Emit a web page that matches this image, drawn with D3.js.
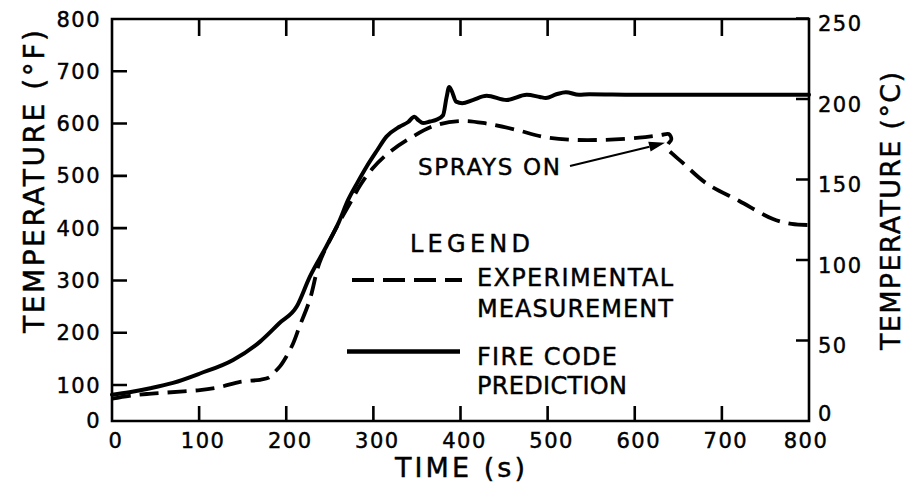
<!DOCTYPE html>
<html><head><meta charset="utf-8">
<script src="https://cdn.jsdelivr.net/npm/d3@7"></script>
<style>
body{margin:0;background:#fff}
svg{display:block;background:#fff}
text{font-family:"DejaVu Sans",sans-serif;fill:#000;stroke:#000;stroke-width:0.45px}
</style>
</head><body>
<svg id="chart" width="905" height="492"></svg>
<script>
// ---------- data ----------
const timeTicks = [0, 100, 200, 300, 400, 500, 600, 700, 800];
const fahrenheitTicks = [0, 100, 200, 300, 400, 500, 600, 700, 800];
const celsiusTicks = [0, 50, 100, 150, 200, 250];

// FIRE CODE PREDICTION (deg F vs s)
const fireTime = [0, 20, 44, 70, 101, 139, 170, 192, 212, 227, 246, 260, 271, 282, 292, 304, 315, 330, 340, 347, 352, 357, 365, 372, 380, 384, 387, 390, 395, 402, 414, 430, 453, 476, 491, 498, 510, 521, 536, 548, 600, 700, 800];
const fireTemp = [73, 80, 91, 104, 122, 148, 183, 218, 250, 307, 365, 410, 454, 488, 517, 548, 575, 594, 603, 613, 606, 601, 604, 607, 616, 650, 670, 662, 642, 639, 645, 653, 645, 655, 651, 649, 656, 660, 655, 656, 655, 655, 655];

// EXPERIMENTAL MEASUREMENT (deg F vs s)
const expTime = [0, 20, 40, 63, 101, 125, 147, 170, 180, 185, 193, 200, 208, 215, 227, 238, 254, 273, 286, 299, 319, 345, 372, 403, 430, 464, 494, 529, 567, 605, 630, 639, 642, 638, 637, 644, 655, 682, 720, 758, 780, 800];
const expTemp = [62, 70, 75, 79, 86, 95, 106, 110, 114, 122, 136, 154, 180, 211, 263, 333, 390, 447, 485, 514, 546, 575, 597, 605, 600, 588, 575, 569, 569, 573, 578, 580, 570, 560, 553, 541, 525, 486, 452, 418, 408, 406];

const xTitle = "TIME (s)";
const yLeftTitle = "TEMPERATURE (°F)";
const yRightTitle = "TEMPERATURE (°C)";
const legendHeading = "LEGEND";
const legendExp = ["EXPERIMENTAL", "MEASUREMENT"];
const legendFire = ["FIRE CODE", "PREDICTION"];
const annotation = "SPRAYS ON";
const sprayTime = 637, sprayTemp = 565;   // point the arrow targets

// ---------- layout ----------
const svg = d3.select("#chart");
const X0 = 112, X1 = 809, YB = 421, YT = 19;

const x = d3.scaleLinear().domain([0, 800]).range([X0, X1]);
// left axis is compressed between 0 and 100 on the original figure
const yF = d3.scaleLinear().domain([0, 100, 800]).range([YB, 385, YT]);
const yC = d3.scaleLinear().domain([0, 250]).range([YB, 18.5]);

// frame (outline of plot area)
svg.append("path")
  .attr("d", `M${X0},${YT}L${X1},${YT}L${X1},${YB}L${X0},${YB}Z`)
  .attr("fill", "none").attr("stroke", "#000").attr("stroke-width", 2.6);

// inward ticks as one path
const innerT = timeTicks.filter(d => d > 0 && d < 800);
const innerF = fahrenheitTicks.filter(d => d > 0 && d < 800);
const innerC = celsiusTicks.filter(d => d > 0);
let td = "";
innerT.forEach(d => { td += `M${x(d)},${YB}V${YB - 15}M${x(d)},${YT}V${YT + 17}`; });
innerF.forEach(d => { td += `M${X0},${yF(d)}H${X0 + 15}`; });
innerC.forEach(d => { td += `M${X1},${yC(d)}H${X1 - 13}`; });
svg.append("path").attr("d", td).attr("fill", "none").attr("stroke", "#000").attr("stroke-width", 2.6);

// tick labels
const tickFont = 21;
svg.append("g").selectAll("text").data(timeTicks).join("text")
  .attr("x", d => x(d) + (d === 800 ? -3 : 4)).attr("y", 448)
  .attr("text-anchor", "middle").attr("font-size", tickFont).attr("letter-spacing", 1.5)
  .text(d => d);
svg.append("g").selectAll("text").data(fahrenheitTicks).join("text")
  .attr("x", 101).attr("y", d => (d === 0 ? 420 : yF(d)) + 7.5)
  .attr("text-anchor", "end").attr("font-size", tickFont).attr("letter-spacing", 1.5)
  .text(d => d);
svg.append("g").selectAll("text").data(celsiusTicks).join("text")
  .attr("x", 818).attr("y", d => (d === 0 ? 413 : yC(d) + 5) + 7.5)
  .attr("text-anchor", "start").attr("font-size", tickFont).attr("letter-spacing", 1.5)
  .text(d => d);

// axis titles
svg.append("text").attr("x", 460).attr("y", 477).attr("text-anchor", "middle")
  .attr("font-size", 27).attr("textLength", 130).text(xTitle);
svg.append("text").attr("transform", "translate(44,181.5) rotate(-90)").attr("text-anchor", "middle")
  .attr("font-size", 28).attr("textLength", 303).text(yLeftTitle);
svg.append("text").attr("transform", "translate(900,211) rotate(-90)").attr("text-anchor", "middle")
  .attr("font-size", 27).attr("textLength", 278).text(yRightTitle);

// curves
const fire = fireTime.map((t, i) => [t, fireTemp[i]]);
const exp = expTime.map((t, i) => [t, expTemp[i]]);
const fireLine = d3.line().x(d => x(d[0])).y(d => yF(d[1])).curve(d3.curveMonotoneX);
const expLine = d3.line().x(d => x(d[0])).y(d => yF(d[1])).curve(d3.curveCatmullRom.alpha(0.5));
svg.append("path").attr("d", expLine(exp)).attr("fill", "none").attr("stroke", "#000")
  .attr("stroke-width", 3.8).attr("stroke-dasharray", "19 9").attr("stroke-linejoin", "round");
svg.append("path").attr("d", fireLine(fire)).attr("fill", "none").attr("stroke", "#000")
  .attr("stroke-width", 4).attr("stroke-linejoin", "round").attr("stroke-linecap", "round");

// legend
const lf = 24;
svg.append("text").attr("x", 410).attr("y", 252).attr("font-size", lf).attr("textLength", 120).text(legendHeading);
svg.append("line").attr("x1", 352).attr("x2", 462).attr("y1", 280).attr("y2", 280)
  .attr("stroke", "#000").attr("stroke-width", 4).attr("stroke-dasharray", "22 9");
svg.append("line").attr("x1", 347).attr("x2", 460).attr("y1", 351.5).attr("y2", 351.5)
  .attr("stroke", "#000").attr("stroke-width", 4.5);
svg.append("text").attr("x", 477).attr("y", 286).attr("font-size", lf).attr("textLength", 196).text(legendExp[0]);
svg.append("text").attr("x", 477).attr("y", 316.5).attr("font-size", lf).attr("textLength", 196).text(legendExp[1]);
svg.append("text").attr("x", 477).attr("y", 365).attr("font-size", lf).attr("textLength", 140).text(legendFire[0]);
svg.append("text").attr("x", 477).attr("y", 394).attr("font-size", lf).attr("textLength", 150).text(legendFire[1]);

// annotation
svg.append("text").attr("x", 418).attr("y", 175).attr("font-size", 23).attr("textLength", 142).text(annotation);
const ax0 = 570, ay0 = 166, ax1 = x(sprayTime) - 2, ay1 = yF(sprayTemp) + 1;
const ang = Math.atan2(ay1 - ay0, ax1 - ax0);
const hl = 16, hw = 5;
const bx = ax1 - hl * Math.cos(ang), by = ay1 - hl * Math.sin(ang);
svg.append("line").attr("x1", ax0).attr("y1", ay0).attr("x2", bx).attr("y2", by)
  .attr("stroke", "#000").attr("stroke-width", 2);
svg.append("path").attr("d", `M${ax1},${ay1}L${bx + hw * Math.sin(ang)},${by - hw * Math.cos(ang)}L${bx - hw * Math.sin(ang)},${by + hw * Math.cos(ang)}Z`)
  .attr("fill", "#000");
</script>
</body></html>
